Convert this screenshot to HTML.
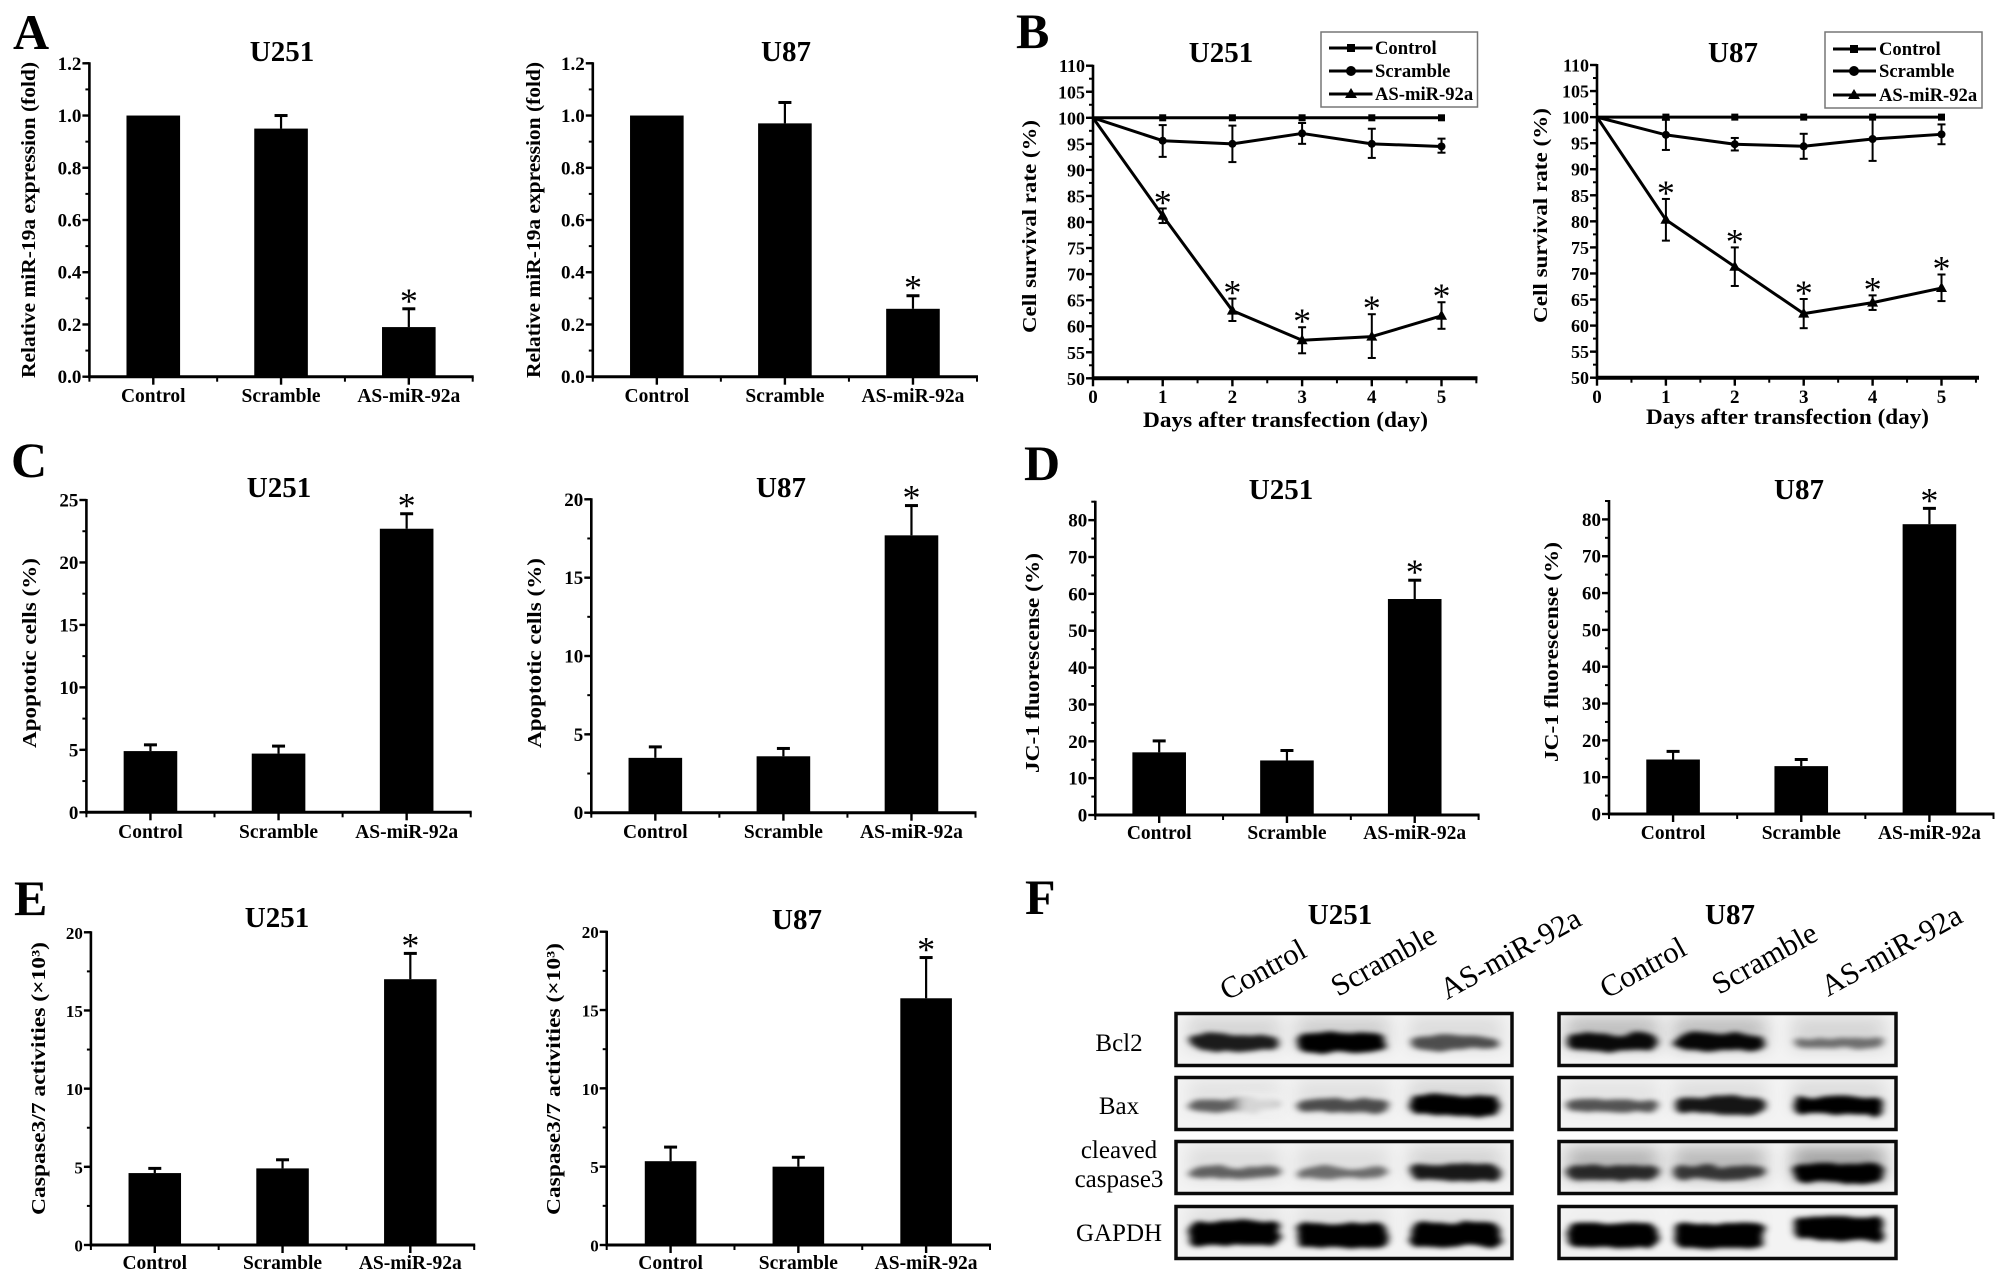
<!DOCTYPE html>
<html lang="en">
<head>
<meta charset="utf-8">
<title>AS-miR-92a multi-panel figure</title>
<style>
html,body{margin:0;padding:0;background:#fff}
svg{display:block}
text{font-family:"Liberation Serif","Times New Roman",serif;fill:#000}
.letter{font-size:50px;font-weight:bold}
.title{font-size:29px;font-weight:bold}
.ytitle{font-size:20px;font-weight:bold}
.xtitle{font-size:22px;font-weight:bold}
.tick{font-size:19px;font-weight:bold}
.cat{font-size:19.5px;font-weight:bold}
.leg{font-size:18.6px;font-weight:bold}
.row{font-size:25px}
.lane{font-size:30.5px}
</style>
</head>
<body>
<svg id="fig" xmlns="http://www.w3.org/2000/svg" width="2008" height="1284" viewBox="0 0 2008 1284">
<defs>
<filter id="bandBlur" x="-30%" y="-100%" width="160%" height="300%">
<feTurbulence type="fractalNoise" baseFrequency="0.035 0.09" numOctaves="2" seed="7" result="n"/>
<feDisplacementMap in="SourceGraphic" in2="n" scale="9" xChannelSelector="R" yChannelSelector="G" result="d"/>
<feGaussianBlur in="d" stdDeviation="3.6 2.4"/>
</filter>
<filter id="hazeBlur" x="-30%" y="-100%" width="160%" height="300%"><feGaussianBlur stdDeviation="9 7"/></filter>
<filter id="softBlur" x="-30%" y="-60%" width="160%" height="220%"><feGaussianBlur stdDeviation="6 4"/></filter>
</defs>
<rect width="2008" height="1284" fill="#fff"/>

<text class="letter" x="13" y="49">A</text>
<text class="letter" x="1016" y="48">B</text>
<text class="letter" x="11" y="477">C</text>
<text class="letter" x="1024" y="480">D</text>
<text class="letter" x="14" y="915">E</text>
<text class="letter" x="1025" y="914">F</text>

<text class="title" x="282" y="61" text-anchor="middle">U251</text>
<text class="title" x="786" y="61" text-anchor="middle">U87</text>
<text class="title" x="1221" y="62" text-anchor="middle">U251</text>
<text class="title" x="1733" y="62" text-anchor="middle">U87</text>
<text class="title" x="279" y="497" text-anchor="middle">U251</text>
<text class="title" x="781" y="497" text-anchor="middle">U87</text>
<text class="title" x="1281" y="499" text-anchor="middle">U251</text>
<text class="title" x="1799" y="499" text-anchor="middle">U87</text>
<text class="title" x="277" y="927" text-anchor="middle">U251</text>
<text class="title" x="797" y="929" text-anchor="middle">U87</text>
<text class="title" x="1340" y="924" text-anchor="middle">U251</text>
<text class="title" x="1730" y="924" text-anchor="middle">U87</text>

<text class="ytitle" transform="translate(35,378) rotate(-90)" textLength="316" lengthAdjust="spacingAndGlyphs">Relative miR-19a expression (fold)</text>
<text class="ytitle" transform="translate(540,378) rotate(-90)" textLength="316" lengthAdjust="spacingAndGlyphs">Relative miR-19a expression (fold)</text>
<text class="ytitle" transform="translate(1036,333) rotate(-90)" textLength="213" lengthAdjust="spacingAndGlyphs">Cell survival rate (%)</text>
<text class="ytitle" transform="translate(1547,323) rotate(-90)" textLength="215" lengthAdjust="spacingAndGlyphs">Cell survival rate (%)</text>
<text class="ytitle" transform="translate(36,748) rotate(-90)" textLength="190" lengthAdjust="spacingAndGlyphs">Apoptotic cells (%)</text>
<text class="ytitle" transform="translate(541,748) rotate(-90)" textLength="190" lengthAdjust="spacingAndGlyphs">Apoptotic cells (%)</text>
<text class="ytitle" transform="translate(1039,773) rotate(-90)" textLength="220" lengthAdjust="spacingAndGlyphs">JC-1 fluorescense (%)</text>
<text class="ytitle" transform="translate(1558,762) rotate(-90)" textLength="220" lengthAdjust="spacingAndGlyphs">JC-1 fluorescense (%)</text>
<text class="ytitle" transform="translate(45,1215) rotate(-90)" textLength="273" lengthAdjust="spacingAndGlyphs">Caspase3/7 activities  (×10³)</text>
<text class="ytitle" transform="translate(560,1215) rotate(-90)" textLength="272" lengthAdjust="spacingAndGlyphs">Caspase3/7 activities  (×10³)</text>

<text class="xtitle" x="1143" y="427" textLength="285" lengthAdjust="spacingAndGlyphs">Days after transfection (day)</text>
<text class="xtitle" x="1646" y="424" textLength="283" lengthAdjust="spacingAndGlyphs">Days after transfection (day)</text>

<g id="charts"></g>

<g>
<rect x="1321" y="32" width="156.5" height="75" fill="#fff" stroke="#777" stroke-width="1.5"/>
<g><line x1="1329" x2="1372.5" y1="48" y2="48" stroke="#000" stroke-width="3"/><rect x="1347" y="44" width="8" height="8"/><text class="leg" x="1375" y="54">Control</text></g>
<g><line x1="1329" x2="1372.5" y1="71" y2="71" stroke="#000" stroke-width="3"/><circle cx="1351" cy="71" r="5"/><text class="leg" x="1375" y="77">Scramble</text></g>
<g><line x1="1329" x2="1372.5" y1="94" y2="94" stroke="#000" stroke-width="3"/><path d="M1351 88l6 10h-12z"/><text class="leg" x="1375" y="100">AS-miR-92a</text></g>
</g>
<g>
<rect x="1825" y="32" width="157" height="76" fill="#fff" stroke="#777" stroke-width="1.5"/>
<g><line x1="1833" x2="1876" y1="49" y2="49" stroke="#000" stroke-width="3"/><rect x="1850" y="45" width="8" height="8"/><text class="leg" x="1879" y="55">Control</text></g>
<g><line x1="1833" x2="1876" y1="71" y2="71" stroke="#000" stroke-width="3"/><circle cx="1854" cy="71" r="5"/><text class="leg" x="1879" y="77">Scramble</text></g>
<g><line x1="1833" x2="1876" y1="95" y2="95" stroke="#000" stroke-width="3"/><path d="M1854 89l6 10h-12z"/><text class="leg" x="1879" y="101">AS-miR-92a</text></g>
</g>

<g id="blots"></g>

<text class="lane" transform="translate(1227,1001) rotate(-29)">Control</text>
<text class="lane" transform="translate(1338,997) rotate(-29)">Scramble</text>
<text class="lane" transform="translate(1447,1000) rotate(-29)">AS-miR-92a</text>
<text class="lane" transform="translate(1607,999) rotate(-29)">Control</text>
<text class="lane" transform="translate(1719,995) rotate(-29)">Scramble</text>
<text class="lane" transform="translate(1828,997) rotate(-29)">AS-miR-92a</text>

<text class="row" x="1119" y="1051" text-anchor="middle">Bcl2</text>
<text class="row" x="1119" y="1114" text-anchor="middle">Bax</text>
<text class="row" x="1119" y="1158" text-anchor="middle">cleaved</text>
<text class="row" x="1119" y="1187" text-anchor="middle">caspase3</text>
<text class="row" x="1119" y="1241" text-anchor="middle">GAPDH</text>
</svg>
<script>
// ---------- chart data ----------
const categories = ['Control', 'Scramble', 'AS-miR-92a'];

const aTickLabels = ['0.0', '0.2', '0.4', '0.6', '0.8', '1.0', '1.2'];
const aU251Values = [1.0, 0.95, 0.19];
const aU251Upper = [1.0, 1.0, 0.26];
const aU87Values = [1.0, 0.97, 0.26];
const aU87Upper = [1.0, 1.05, 0.31];

const cU251Ticks = ['0', '5', '10', '15', '20', '25'];
const cU251Values = [4.9, 4.7, 22.7];
const cU251Upper = [5.4, 5.3, 23.9];
const cU87Ticks = ['0', '5', '10', '15', '20'];
const cU87Values = [3.5, 3.6, 17.7];
const cU87Upper = [4.2, 4.1, 19.6];

const dTickLabels = ['0', '10', '20', '30', '40', '50', '60', '70', '80'];
const dU251Values = [17, 14.8, 58.6];
const dU251Upper = [20.1, 17.5, 63.7];
const dU87Values = [14.8, 13, 78.7];
const dU87Upper = [17, 14.8, 83];

const eTickLabels = ['0', '5', '10', '15', '20'];
const eU251Values = [4.6, 4.9, 17];
const eU251Upper = [4.9, 5.45, 18.65];
const eU87Values = [5.35, 5, 15.75];
const eU87Upper = [6.25, 5.6, 18.35];

const bDays = [0, 1, 2, 3, 4, 5];
const bTickLabels = ['50', '55', '60', '65', '70', '75', '80', '85', '90', '95', '100', '105', '110'];

const bU251Control = [100, 100, 100, 100, 100, 100];
const bU251Scramble = [100, 95.6, 95, 97, 95, 94.5];
const bU251ScrambleUpper = [100, 98.6, 98.5, 99, 97.9, 96];
const bU251ScrambleLower = [100, 92.5, 91.5, 95, 92.3, 93.3];
const bU251As = [100, 81.2, 63, 57.3, 58, 62];
const bU251AsUpper = [100, 82.6, 65.3, 59.8, 62.3, 64.6];
const bU251AsLower = [100, 79.8, 61, 54.8, 53.9, 59.5];

const bU87Control = [100, 100, 100, 100, 100, 100];
const bU87Scramble = [100, 96.6, 94.8, 94.4, 95.8, 96.7];
const bU87ScrambleUpper = [100, 99.5, 96, 96.8, 100, 98.6];
const bU87ScrambleLower = [100, 93.7, 93.6, 92, 91.6, 94.8];
const bU87As = [100, 80.3, 71.3, 62.3, 64.4, 67.2];
const bU87AsUpper = [100, 84.3, 75, 65.1, 65.8, 69.8];
const bU87AsLower = [100, 76.3, 67.6, 59.5, 63, 64.7];

const blotRows = ['bcl2', 'bax', 'cleaved-caspase3', 'gapdh'];
const blotU251Intensity = [[0.78, 1, 0.5], [0.42, 0.52, 1], [0.4, 0.34, 0.8], [1, 1, 1]];
const blotU87Intensity = [[0.88, 0.9, 0.3], [0.48, 0.82, 1], [0.68, 0.6, 1], [1, 1, 1]];
const blotU251Haze = [0.8, 0.6, 0.8, 0.4];
const blotU87Haze = [1.3, 0.5, 1.8, 0.1];

// ---------- helpers ----------
const NS = 'http://www.w3.org/2000/svg';
function mk(parent, tag, attrs, text) {
  const el = document.createElementNS(NS, tag);
  for (const k in attrs) el.setAttribute(k, attrs[k]);
  if (text !== undefined) el.textContent = text;
  parent.appendChild(el);
  return el;
}
function nameIt(el, name) {
  
  
  return el;
}
function linearScale(d0, d1, r0, r1) {
  return function (v) { return r0 + (v - d0) / (d1 - d0) * (r1 - r0); };
}
function star(parent, cx, cy, name) {
  const s = mk(parent, 'text', { x: cx, y: cy + 17, 'text-anchor': 'middle' }, '*');
  s.setAttribute('style', 'font-size:36px');
  nameIt(s, name);
}
function drawYAxis(g, o, y) {
  nameIt(mk(g, 'line', { x1: o.left, x2: o.left, y1: y(o.yMax) - 1, y2: y(o.yMin) + 1.5, stroke: '#000', 'stroke-width': 2.6 }), 'y-axis-line');
  for (let v = o.yMin; v <= o.yMax + 1e-6; v += o.minorStep) {
    const tickEl = mk(g, 'line', { x1: o.left - 4, x2: o.left, y1: y(v), y2: y(v), stroke: '#000', 'stroke-width': 2 });
    nameIt(tickEl, 'y-tick-mark');
  }
  o.tickLabels.forEach(function (lab, i) {
    const v = o.yMin + i * o.tickStep;
    const major = mk(g, 'line', { x1: o.left - 7, x2: o.left, y1: y(v), y2: y(v), stroke: '#000', 'stroke-width': 2.4 });
    nameIt(major, 'y-major-tick');
    const t = mk(g, 'text', { class: 'tick', x: o.left - 8, y: y(v) + 6.5, 'text-anchor': 'end' }, lab);
    t.setAttribute('style', 'font-size:' + (o.tickSize || 19) + 'px');
    nameIt(t, 'y-tick-label');
  });
}

// ---------- bar chart ----------
function barChart(o) {
  const g = nameIt(mk(document.getElementById('charts'), 'g', {}), o.name);
  const y = linearScale(0, o.yMax, o.bottom, o.top);
  o.yMin = 0;
  const band = (o.right - o.left) / categories.length;
  const x = function (i) { return o.left + (i + 0.5) * band; };
  drawYAxis(g, o, y);
  nameIt(mk(g, 'line', { x1: o.left - 1, x2: o.right + 1, y1: o.bottom, y2: o.bottom, stroke: '#000', 'stroke-width': 3 }), 'x-axis-line');
  for (let i = 0; i <= categories.length; i++) {
    const bx = o.left + i * band;
    nameIt(mk(g, 'line', { x1: bx, x2: bx, y1: o.bottom, y2: o.bottom + 5, stroke: '#000', 'stroke-width': 2 }), 'x-minor-tick');
  }
  categories.forEach(function (cat, i) {
    const h = y(0) - y(o.values[i]);
    const bar = mk(g, 'rect', { x: x(i) - o.barWidth / 2, y: y(o.values[i]), width: o.barWidth, height: h, fill: '#000' });
    nameIt(bar, 'bar-' + cat.toLowerCase());
    const top = y(o.upper[i]);
    if (o.upper[i] > o.values[i]) {
      nameIt(mk(g, 'line', { x1: x(i), x2: x(i), y1: top, y2: y(o.values[i]), stroke: '#000', 'stroke-width': 2.2 }), 'error-stem');
    }
    nameIt(mk(g, 'line', { x1: x(i) - 6.5, x2: x(i) + 6.5, y1: top, y2: top, stroke: '#000', 'stroke-width': o.upper[i] > o.values[i] ? 3 : 0 }), 'error-cap');
    nameIt(mk(g, 'line', { x1: x(i), x2: x(i), y1: o.bottom, y2: o.bottom + 8, stroke: '#000', 'stroke-width': 2.4 }), 'x-tick');
    const lab = mk(g, 'text', { class: 'cat', x: x(i), y: o.labelY, 'text-anchor': 'middle' }, cat);
    nameIt(lab, 'x-tick-label');
  });
  star(g, x(2), y(o.upper[2]) - 13, 'significance-star');
}

barChart({ name: 'chart-a-u251', left: 89.4, right: 472.7, top: 63.3, bottom: 376.7, yMax: 1.2, tickStep: 0.2, minorStep: 0.1, tickLabels: aTickLabels, values: aU251Values, upper: aU251Upper, barWidth: 53.6, labelY: 402 });
barChart({ name: 'chart-a-u87', left: 592.8, right: 977, top: 63.3, bottom: 376.7, yMax: 1.2, tickStep: 0.2, minorStep: 0.1, tickLabels: aTickLabels, values: aU87Values, upper: aU87Upper, barWidth: 53.6, labelY: 402 });
barChart({ name: 'chart-c-u251', left: 86.4, right: 470.7, top: 500, bottom: 812.3, yMax: 25, tickStep: 5, minorStep: 2.5, tickLabels: cU251Ticks, values: cU251Values, upper: cU251Upper, barWidth: 53.6, labelY: 838 });
barChart({ name: 'chart-c-u87', left: 591.3, right: 975.5, top: 499.3, bottom: 812.7, yMax: 20, tickStep: 5, minorStep: 2.5, tickLabels: cU87Ticks, values: cU87Values, upper: cU87Upper, barWidth: 53.6, labelY: 838 });
barChart({ name: 'chart-d-u251', left: 1095.3, right: 1478.6, top: 501.7, bottom: 815, yMax: 85, tickStep: 10, minorStep: 5, tickLabels: dTickLabels, values: dU251Values, upper: dU251Upper, barWidth: 53.6, labelY: 839 });
barChart({ name: 'chart-d-u87', left: 1609, right: 1993.5, top: 501, bottom: 814, yMax: 85, tickStep: 10, minorStep: 5, tickLabels: dTickLabels, values: dU87Values, upper: dU87Upper, barWidth: 53.6, labelY: 839 });
barChart({ name: 'chart-e-u251', left: 90.9, right: 474.2, top: 932.3, bottom: 1245, yMax: 20, tickStep: 5, minorStep: 2.5, tickLabels: eTickLabels, values: eU251Values, upper: eU251Upper, barWidth: 52.5, labelY: 1269, tickSize: 17 });
barChart({ name: 'chart-e-u87', left: 606.7, right: 990, top: 931.7, bottom: 1245, yMax: 20, tickStep: 5, minorStep: 2.5, tickLabels: eTickLabels, values: eU87Values, upper: eU87Upper, barWidth: 51.6, labelY: 1269, tickSize: 17 });

// ---------- line chart ----------
function lineChart(o) {
  const g = nameIt(mk(document.getElementById('charts'), 'g', {}), o.name);
  const y = linearScale(50, 110, o.bottom, o.top);
  const x = linearScale(0, 1, o.left, o.left + o.dayPx);
  o.yMin = 50; o.yMax = 110; o.tickStep = 5; o.minorStep = 2.5; o.tickLabels = bTickLabels; o.tickSize = 18;
  drawYAxis(g, o, y);
  nameIt(mk(g, 'line', { x1: o.left - 1, x2: o.right, y1: o.bottom, y2: o.bottom, stroke: '#000', 'stroke-width': 4 }), 'x-axis-line');
  for (let d = 0; d <= 5.5; d += 0.5) {
    nameIt(mk(g, 'line', { x1: x(d), x2: x(d), y1: o.bottom, y2: o.bottom + 5, stroke: '#000', 'stroke-width': 2 }), 'x-minor-tick');
  }
  bDays.forEach(function (d) {
    nameIt(mk(g, 'line', { x1: x(d), x2: x(d), y1: o.bottom, y2: o.bottom + 8, stroke: '#000', 'stroke-width': 2.4 }), 'x-major-tick');
    const t = mk(g, 'text', { class: 'tick', x: x(d), y: o.labelY, 'text-anchor': 'middle' }, String(d));
    nameIt(t, 'x-tick-label');
  });
  function polyline(vals, w, name) {
    const pts = bDays.map(function (d, i) { return x(d) + ',' + y(vals[i]); }).join(' ');
    nameIt(mk(g, 'polyline', { points: pts, fill: 'none', stroke: '#000', 'stroke-width': w, 'stroke-linejoin': 'round' }), name);
  }
  function errors(vals, up, lo, name) {
    bDays.forEach(function (d, i) {
      if (i === 0) return;
      const eg = nameIt(mk(g, 'g', {}), name + '-error-bar');
      mk(eg, 'line', { x1: x(d), x2: x(d), y1: y(up[i]), y2: y(lo[i]), stroke: '#000', 'stroke-width': 2 });
      mk(eg, 'line', { x1: x(d) - 4, x2: x(d) + 4, y1: y(up[i]), y2: y(up[i]), stroke: '#000', 'stroke-width': 2 });
      mk(eg, 'line', { x1: x(d) - 4, x2: x(d) + 4, y1: y(lo[i]), y2: y(lo[i]), stroke: '#000', 'stroke-width': 2 });
    });
  }
  errors(o.scramble, o.scrambleUpper, o.scrambleLower, 'scramble');
  errors(o.as, o.asUpper, o.asLower, 'as-mir-92a');
  polyline(o.control, 3, 'line-control');
  polyline(o.scramble, 3, 'line-scramble');
  polyline(o.as, 3, 'line-as-mir-92a');
  bDays.forEach(function (d, i) {
    if (i === 0) return;
    const sq = mk(g, 'rect', { x: x(d) - 3.5, y: y(o.control[i]) - 3.5, width: 7, height: 7 });
    nameIt(sq, 'point-control');
    const c = mk(g, 'circle', { cx: x(d), cy: y(o.scramble[i]), r: 4 });
    nameIt(c, 'point-scramble');
    const px = x(d), py = y(o.as[i]);
    const tri = mk(g, 'polygon', { points: (px) + ',' + (py - 6) + ' ' + (px + 5.5) + ',' + (py + 4) + ' ' + (px - 5.5) + ',' + (py + 4) });
    nameIt(tri, 'point-as-mir-92a');
    star(g, px, y(o.asUpper[i]) - 11, 'significance-star');
  });
}
lineChart({ name: 'chart-b-u251', left: 1093, dayPx: 69.7, right: 1477.5, top: 65.7, bottom: 378.3, labelY: 403, control: bU251Control, scramble: bU251Scramble, scrambleUpper: bU251ScrambleUpper, scrambleLower: bU251ScrambleLower, as: bU251As, asUpper: bU251AsUpper, asLower: bU251AsLower });
lineChart({ name: 'chart-b-u87', left: 1597, dayPx: 68.9, right: 1979, top: 65, bottom: 377.7, labelY: 403, control: bU87Control, scramble: bU87Scramble, scrambleUpper: bU87ScrambleUpper, scrambleLower: bU87ScrambleLower, as: bU87As, asUpper: bU87AsUpper, asLower: bU87AsLower });

// ---------- western blots ----------
function blot(name, boxX, boxW, laneX, laneW, intensity, haze, gapdhShift) {
  const root = document.getElementById('blots');
  const g = nameIt(mk(root, 'g', {}), name);
  const rowTop = [1012, 1076, 1140, 1205];
  const rowH = 55;
  blotRows.forEach(function (row, r) {
    const clipId = name + '-clip-' + r;
    const defs = mk(g, 'defs', {});
    const cp = mk(defs, 'clipPath', { id: clipId });
    mk(cp, 'rect', { x: boxX, y: rowTop[r], width: boxW, height: rowH });
    const rg = nameIt(mk(g, 'g', { 'clip-path': 'url(#' + clipId + ')' }), 'blot-row-' + row);
    mk(rg, 'rect', { x: boxX, y: rowTop[r], width: boxW, height: rowH, fill: '#f3f3f3' });
    const cy = rowTop[r] + rowH / 2 + (r === 0 ? 3 : r === 1 ? 2 : r === 2 ? 5 : 0);
    intensity[r].forEach(function (v, lane) {
      const shift = r === 3 ? gapdhShift[lane] : 0;
      const thick = r === 3 ? 25 : 6 + 13 * v;
      const haz = mk(rg, 'rect', { x: laneX[lane] - laneW / 2, y: cy - 26, width: laneW, height: 34, fill: '#000', opacity: Math.min(0.45, (0.05 + 0.12 * v) * haze[r]), filter: 'url(#hazeBlur)' });
      nameIt(haz, 'band-haze');
      const b = mk(rg, 'rect', { x: laneX[lane] - laneW / 2 + 1, y: cy + shift - thick / 2, width: laneW - 2, height: thick, rx: 9, fill: '#000', opacity: Math.min(1, 0.25 + 0.8 * v), filter: 'url(#bandBlur)' });
      nameIt(b, 'band-' + row + '-lane-' + (lane + 1));
    });
    if (name === 'blot-u251' && r === 1) {
      const fade = mk(rg, 'rect', { x: laneX[0] + 2, y: cy - 12, width: laneW / 2, height: 24, fill: '#f3f3f3', opacity: 0.8, filter: 'url(#softBlur)' });
      nameIt(fade, 'band-fade');
    }
    nameIt(mk(g, 'rect', { x: boxX + 1.5, y: rowTop[r] + 1.5, width: boxW - 3, height: rowH - 3, fill: 'none', stroke: '#0a0a0a', 'stroke-width': 3.5 }), 'blot-frame');
  });
}
blot('blot-u251', 1174.5, 339, [1234.5, 1342.5, 1455.5], 92, blotU251Intensity, blotU251Haze, [1, 3, 2]);
blot('blot-u87', 1557.5, 340, [1612.5, 1719.5, 1838.5], 92, blotU87Intensity, blotU87Haze, [3, 3, -4]);
</script>
</body>
</html>
